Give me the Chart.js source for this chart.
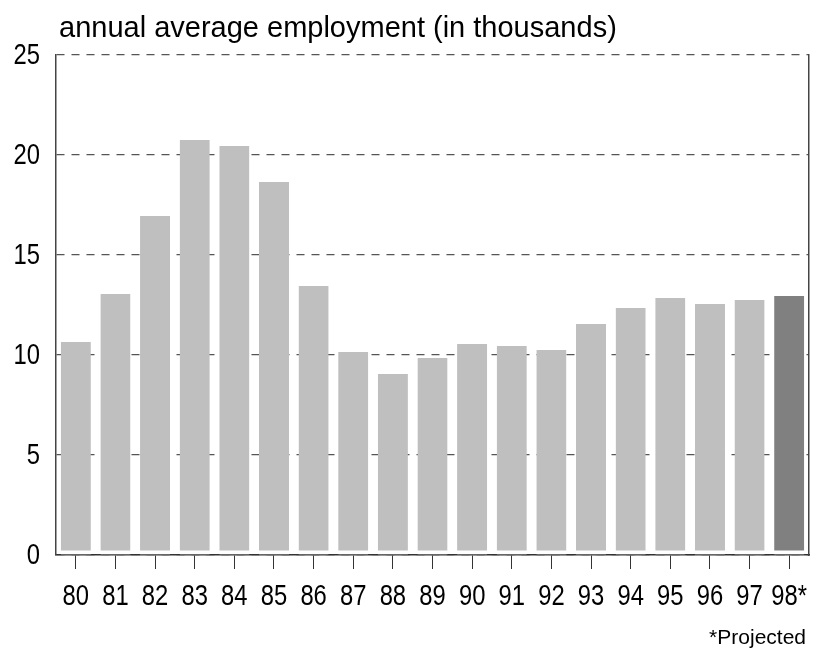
<!DOCTYPE html>
<html>
<head>
<meta charset="utf-8">
<script src="https://cdn.jsdelivr.net/npm/chart.js@4/dist/chart.umd.min.js"></script>
<style>
  html, body { margin: 0; padding: 0; background: #ffffff; }
  #wrap { width: 823px; height: 648px; position: relative; }
</style>
</head>
<body>
<div id="wrap"><canvas id="c" width="823" height="648"></canvas></div>
<script>
const categories = ["80","81","82","83","84","85","86","87","88","89","90","91","92","93","94","95","96","97","98*"];
const employment = [10.65,13.05,16.95,20.75,20.45,18.65,13.45,10.15,9.05,9.85,10.55,10.45,10.25,11.55,12.35,12.85,12.55,12.75,12.95];
const yTicks = [0,5,10,15,20,25];
const titleText = "annual average employment (in thousands)";
const noteText = "*Projected";

const barColors = categories.map(c => c.indexOf("*") >= 0 ? "#808080" : "#bfbfbf");
const FONT = "'Liberation Sans', Arial, sans-serif";
const NARROW_X = 0.82;

// Tick labels drawn in a narrow (horizontally condensed) face at the library's tick positions
const textPlugin = {
  id: 'textPlugin',
  afterDraw(chart) {
    const ctx = chart.ctx;
    ctx.save();
    ctx.fillStyle = '#000';
    ctx.textBaseline = 'alphabetic';
    ctx.font = "29px " + FONT;
    ctx.textAlign = 'left';
    ctx.fillText(titleText, 59, 37);
    ctx.font = "21px " + FONT;
    ctx.textAlign = 'right';
    ctx.fillText(noteText, 806, 644);

    ctx.font = "29px " + FONT;
    ctx.textBaseline = 'middle';
    const xs = chart.scales.x;
    xs.ticks.forEach((t, i) => {
      const px = xs.getPixelForTick(i);
      const label = xs.getLabelForValue(t.value);
      ctx.save();
      ctx.translate(px, 597);
      ctx.scale(NARROW_X, 1);
      ctx.textAlign = 'center';
      ctx.fillText(label, 0, 0);
      ctx.restore();
    });
    const ys = chart.scales.y;
    ys.ticks.forEach((t) => {
      const py = ys.getPixelForValue(t.value);
      ctx.save();
      ctx.translate(40, py + 1);
      ctx.scale(NARROW_X, 1);
      ctx.textAlign = 'right';
      ctx.fillText(String(t.value), 0, 0);
      ctx.restore();
    });
    ctx.restore();
  }
};

new Chart(document.getElementById('c'), {
  type: 'bar',
  data: {
    labels: categories,
    datasets: [{
      data: employment,
      backgroundColor: barColors,
      borderColor: '#ffffff',
      borderWidth: {top: 0, left: 0, right: 0, bottom: 4},
      borderSkipped: false,
      categoryPercentage: 1.0,
      barPercentage: 0.76
    }]
  },
  options: {
    responsive: false,
    animation: false,
    events: [],
    layout: { padding: { top: 55, left: 0, right: 14, bottom: 0 } },
    plugins: { legend: { display: false }, tooltip: { enabled: false }, title: { display: false } },
    scales: {
      x: {
        offset: true,
        grid: { display: true, drawOnChartArea: false, drawTicks: true, tickLength: 14, offset: false, color: '#333', lineWidth: 1 },
        border: { display: true, color: '#333', width: 1.5 },
        ticks: { display: false, autoSkip: false, maxRotation: 0 },
        afterFit(scale) { scale.height = 93; }
      },
      y: {
        min: 0, max: 25,
        afterBuildTicks(scale) { scale.ticks = yTicks.map(v => ({ value: v })); },
        grid: { display: true, drawTicks: false, color: '#555', lineWidth: 1.2 },
        border: { display: true, color: '#444', width: 1.5, dash: [8, 7] },
        ticks: { display: false },
        afterFit(scale) { scale.width = 56; }
      },
      y2: {
        position: 'right',
        min: 0, max: 25,
        grid: { display: false, drawTicks: false },
        border: { display: true, color: '#444', width: 1.5 },
        ticks: { display: false },
        afterFit(scale) { scale.width = 0; }
      }
    }
  },
  plugins: [textPlugin]
});
</script>
</body>
</html>
